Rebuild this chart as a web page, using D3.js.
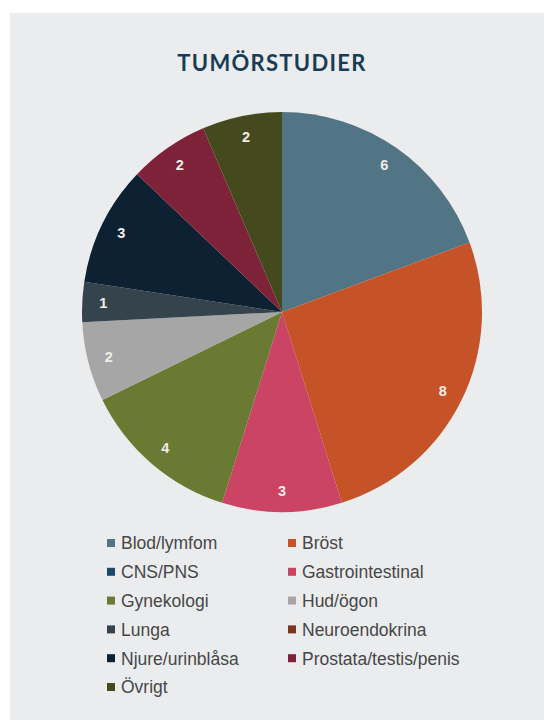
<!DOCTYPE html>
<html>
<head>
<meta charset="utf-8">
<script src="https://cdn.jsdelivr.net/npm/d3@7"></script>
<style>
  body { margin: 0; background: #fff; }
  svg { display: block; }
</style>
</head>
<body>
<div id="chart"></div>
<script>
// categories in legend order (alphabetical), zero ones only show in legend
var categories = ["Blod/lymfom", "Bröst", "CNS/PNS", "Gastrointestinal", "Gynekologi",
                  "Hud/ögon", "Lunga", "Neuroendokrina", "Njure/urinblåsa",
                  "Prostata/testis/penis", "Övrigt"];
var values = [6, 8, 0, 3, 4, 2, 1, 0, 3, 2, 2];
var colors = ["#527585", "#c65227", "#1b4a68", "#cc4463", "#6b7a33",
              "#a6a6a6", "#35434c", "#7a3420", "#0d2133", "#7e2239", "#444a1e"];

var width = 544, height = 720;

var svg = d3.select("#chart").append("svg")
  .attr("width", width)
  .attr("height", height);

// grey panel
svg.append("rect")
  .attr("x", 10).attr("y", 13)
  .attr("width", width - 10).attr("height", height - 13)
  .attr("fill", "#ebecee");

svg.append("text")
  .attr("x", 272).attr("y", 71)
  .attr("text-anchor", "middle")
  .attr("font-family", "Lato, 'Open Sans', sans-serif")
  .attr("font-weight", "bold")
  .attr("font-size", 22)
  .attr("letter-spacing", 1.3)
  .attr("fill", "#173d55")
  .text("TUMÖRSTUDIER");

var color = d3.scaleOrdinal().domain(categories).range(colors);

var data = categories.map(function(c, i) { return {name: c, value: values[i]}; });

var radius = 200;
var pie = d3.pie().sort(null).value(function(d) { return d.value; });
var arc = d3.arc().innerRadius(0).outerRadius(radius);
var labelArc = d3.arc().innerRadius(179).outerRadius(179);

var g = svg.append("g").attr("transform", "translate(282,312)");

var slices = pie(data).filter(function(d) { return d.data.value > 0; });

g.selectAll("path")
  .data(slices)
  .enter().append("path")
    .attr("d", arc)
    .attr("fill", function(d) { return color(d.data.name); });

g.selectAll("text")
  .data(slices)
  .enter().append("text")
    .attr("transform", function(d) { return "translate(" + labelArc.centroid(d) + ")"; })
    .attr("dy", "0.35em")
    .attr("text-anchor", "middle")
    .attr("font-family", "'Liberation Sans', Arial, sans-serif")
    .attr("font-weight", "bold")
    .attr("font-size", 14.5)
    .attr("fill", "#f1eee9")
    .text(function(d) { return d.data.value; });

// legend, two columns
var legend = svg.append("g");
var rowH = 28.8;
var items = legend.selectAll("g")
  .data(data)
  .enter().append("g")
    .attr("transform", function(d, i) {
      var col = i % 2, row = Math.floor(i / 2);
      return "translate(" + (col === 0 ? 107 : 288) + "," + (543 + row * rowH) + ")";
    });

items.append("rect")
  .attr("x", 0).attr("y", -4)
  .attr("width", 8).attr("height", 8)
  .attr("fill", function(d) { return color(d.name); });

items.append("text")
  .attr("x", 14)
  .attr("dy", "0.36em")
  .attr("font-family", "'Liberation Sans', Arial, sans-serif")
  .attr("font-size", 17.5)
  .attr("fill", "#474747")
  .text(function(d) { return d.name; });
</script>
</body>
</html>
